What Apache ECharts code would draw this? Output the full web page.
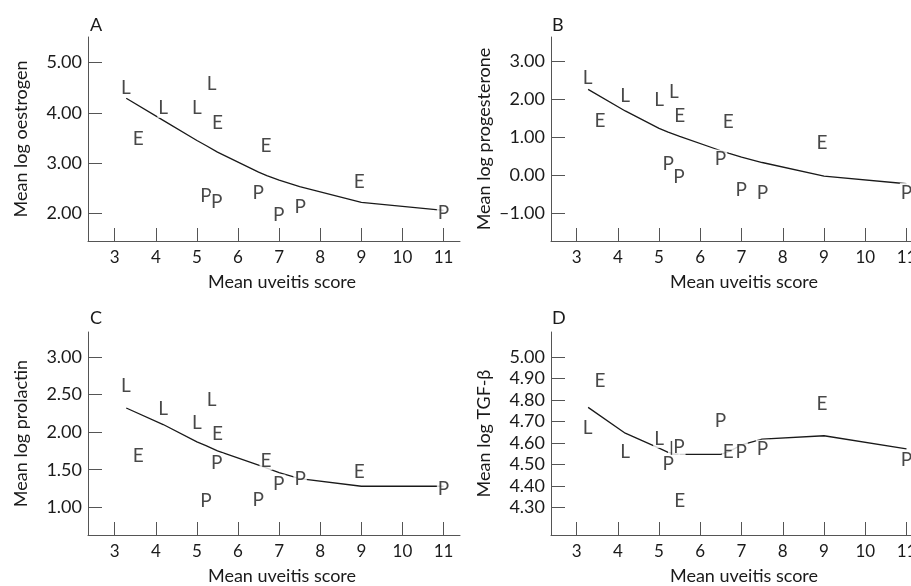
<!DOCTYPE html>
<html>
<head>
<meta charset="utf-8">
<script src="https://cdn.jsdelivr.net/npm/echarts@6/dist/echarts.min.js"></script>
<style>
  html, body { margin: 0; padding: 0; background: #fff; }
  #chart { width: 911px; height: 586px; }
</style>
</head>
<body>
<div id="chart"></div>
<script>
// x positions (mean uveitis score) of the three groups
const xL = [3.27, 4.18, 5.0, 5.36];
const xE = [3.57, 5.5, 6.68, 8.95];
const xP = [5.22, 5.48, 6.49, 6.99, 7.51, 11.0];

// A - oestrogen
const aL = [4.49, 4.09, 4.09, 4.58];
const aE = [3.49, 3.81, 3.34, 2.63];
const aP = [2.35, 2.22, 2.41, 1.97, 2.13, 2.00];
// B - progesterone
const bL = [2.58, 2.10, 1.98, 2.20];
const bE = [1.43, 1.58, 1.41, 0.86];
const bP = [0.31, -0.03, 0.43, -0.38, -0.45, -0.45];
// C - prolactin
const cL = [2.62, 2.31, 2.12, 2.43];
const cE = [1.69, 1.97, 1.62, 1.47];
const cP = [1.09, 1.59, 1.10, 1.31, 1.38, 1.24];
// D - TGF-beta
const dL = [4.67, 4.56, 4.62, 4.57];
const dE = [4.89, 4.33, 4.56, 4.78];
const dP = [4.50, 4.58, 4.70, 4.56, 4.57, 4.52];

// fitted curves
const fitX = [3.28, 4.18, 5.0, 5.22, 5.5, 6.5, 6.7, 7.0, 7.5, 9.0, 11.0];
const fitA = [4.29, 3.85, 3.45, 3.35, 3.22, 2.82, 2.75, 2.66, 2.53, 2.22, 2.06];
const fitB = [2.27, 1.70, 1.24, 1.14, 1.03, 0.65, 0.58, 0.48, 0.34, -0.02, -0.22];
const fitC = [2.32, 2.10, 1.87, 1.82, 1.75, 1.56, 1.52, 1.46, 1.38, 1.28, 1.28];
const fitD = [4.765, 4.645, 4.575, 4.556, 4.546, 4.546, 4.56, 4.59, 4.617, 4.633, 4.572];

const xTicks = [3, 4, 5, 6, 7, 8, 9, 10, 11];
const aTicks = [2, 3, 4, 5];
const bTicks = [-1, 0, 1, 2, 3];
const cTicks = [1, 1.5, 2, 2.5, 3];
const dTicks = [4.3, 4.4, 4.5, 4.6, 4.7, 4.8, 4.9, 5.0];

const panelNames = ['A', 'B', 'C', 'D'];
const yNames = ['Mean log oestrogen', 'Mean log progesterone', 'Mean log prolactin', 'Mean log TGF-\u03b2'];

document.addEventListener('DOMContentLoaded', function () {
    const chart = echarts.init(document.getElementById('chart'));
    const font = 'Lato, "Open Sans", sans-serif';
    const ink = '#1a1a1a';
    const axisGrey = '#555';

    // grids keep their set size even where B and D run past the right edge
    const grids = [
        { left: 88, top: 37, width: 372, height: 204, outerBoundsMode: 'none' },
        { left: 551, top: 37, width: 372, height: 204, outerBoundsMode: 'none' },
        { left: 88, top: 332, width: 372, height: 203, outerBoundsMode: 'none' },
        { left: 551, top: 332, width: 372, height: 203, outerBoundsMode: 'none' }
    ];
    const xRanges = [[2.35, 11.4], [2.38, 11.4], [2.35, 11.4], [2.38, 11.4]];
    const yRanges = [[1.45, 5.51], [-1.73, 3.65], [0.632, 3.33], [4.171, 5.116]];
    const yTicks = [aTicks, bTicks, cTicks, dTicks];
    const namePad = [16, 14, 16, 14];

    const xAxes = grids.map(function (g, i) {
        return {
            gridIndex: i, type: 'value',
            min: xRanges[i][0], max: xRanges[i][1],
            splitLine: { show: false },
            axisLine: { onZero: false, lineStyle: { color: axisGrey, width: 1 } },
            axisTick: { inside: true, length: 13, customValues: xTicks, lineStyle: { color: axisGrey } },
            axisLabel: { customValues: xTicks, margin: 8, color: ink, fontSize: 17, fontFamily: font },
            name: 'Mean uveitis score', nameLocation: 'middle', nameGap: 32,
            nameTextStyle: { color: ink, fontSize: 18, fontFamily: font, padding: [0, 0, 0, namePad[i]] }
        };
    });

    const yAxes = grids.map(function (g, i) {
        return {
            gridIndex: i, type: 'value',
            min: yRanges[i][0], max: yRanges[i][1],
            splitLine: { show: false },
            axisLine: { onZero: false, lineStyle: { color: axisGrey, width: 1 } },
            axisTick: { inside: true, length: 14, customValues: yTicks[i], lineStyle: { color: axisGrey } },
            axisLabel: {
                customValues: yTicks[i], margin: 6, color: ink, fontSize: 18, fontFamily: font,
                formatter: function (v) { return v.toFixed(2).replace('-', '\u2013'); }
            },
            name: yNames[i], nameLocation: 'middle', nameGap: 58,
            nameTextStyle: { color: ink, fontSize: 18, fontFamily: font }
        };
    });

    const groups = [
        [aL, aE, aP, fitA],
        [bL, bE, bP, fitB],
        [cL, cE, cP, fitC],
        [dL, dE, dP, fitD]
    ];

    function pairs(xs, ys) {
        return xs.map(function (x, k) { return [x, ys[k]]; });
    }

    // letters with a white box so they break the fitted line, as in the figure
    function letters(i, xs, ys, letter) {
        return {
            type: 'scatter', xAxisIndex: i, yAxisIndex: i, z: 3,
            symbolSize: 1,
            itemStyle: { color: 'rgba(0,0,0,0)' },
            label: {
                show: true, position: 'inside', formatter: letter,
                color: ink, fontSize: 19, fontFamily: font,
                backgroundColor: '#fff', padding: [0, 1]
            },
            data: pairs(xs, ys)
        };
    }

    const series = [];
    groups.forEach(function (g, i) {
        series.push({
            type: 'line', xAxisIndex: i, yAxisIndex: i, z: 2,
            showSymbol: false, smooth: false,
            lineStyle: { color: ink, width: 1.3 },
            data: pairs(fitX, g[3])
        });
        series.push(letters(i, xL, g[0], 'L'));
        series.push(letters(i, xE, g[1], 'E'));
        series.push(letters(i, xP, g[2], 'P'));
    });

    const titles = [[90, 16], [552, 16], [90, 309], [552, 309]].map(function (p, i) {
        return {
            text: panelNames[i], left: p[0], top: p[1], padding: 0,
            textStyle: { color: ink, fontSize: 18, fontWeight: 'normal', fontFamily: font }
        };
    });

    chart.setOption({
        animation: false,
        title: titles,
        grid: grids,
        xAxis: xAxes,
        yAxis: yAxes,
        series: series
    });
});
</script>
</body>
</html>
